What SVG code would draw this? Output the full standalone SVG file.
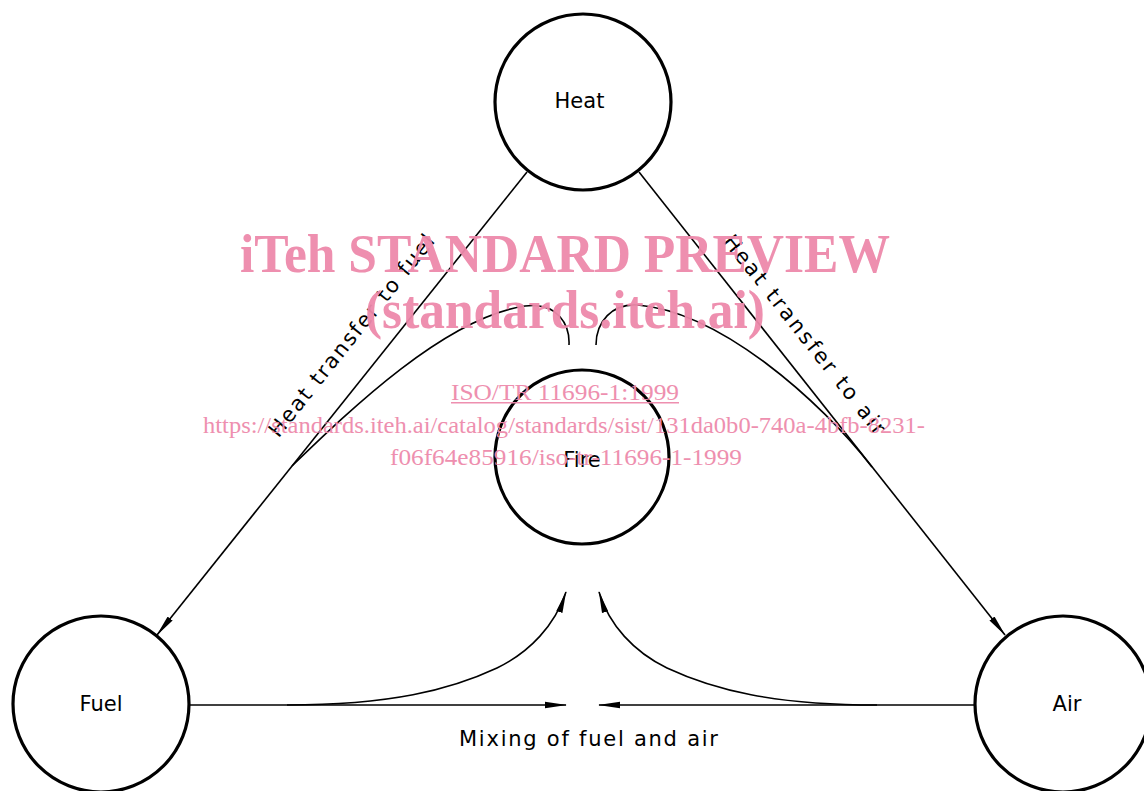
<svg xmlns="http://www.w3.org/2000/svg" width="1144" height="791" viewBox="0 0 1144 791">
  <style>
    .node { fill: #fff; stroke: #000; stroke-width: 3.2; }
    .lbl { font-family: "DejaVu Sans", "Liberation Sans", sans-serif; font-size: 21px; fill: #000; text-anchor: middle; }
    .conn { fill: none; stroke: #000; stroke-width: 1.6; }
    .wm { font-family: "Liberation Serif", serif; fill: #ee8aab; text-anchor: middle; }
    .wm-big { font-size: 54px; font-weight: bold; }
    .wm-small { font-size: 24px; }
  </style>
  <defs>
    <marker id="arrow" viewBox="0 -4 22 8" refX="21" refY="0" markerWidth="22" markerHeight="8" markerUnits="userSpaceOnUse" orient="auto">
      <path d="M0,-3.2 L22,0 L0,3.2 Z" fill="#000"/>
    </marker>
  </defs>
  <rect width="1144" height="791" fill="#fff"/>

  <!-- connectors -->
  <g id="connectors">
    <!-- heat transfer -->
    <path class="conn" d="M527,172 L157,635" marker-end="url(#arrow)"/>
    <path class="conn" d="M639,172 L1005,635" marker-end="url(#arrow)"/>
    <!-- flame return curves near the fire -->
    <path class="conn" d="M292,466 C350,410 445,318 525,306 C558,302 570,325 569,345"/>
    <path class="conn" d="M596,345 C596,322 612,303 638,305 C720,312 820,400 872,467"/>
    <!-- mixing of fuel and air -->
    <path class="conn" d="M190,705 L566,705" marker-end="url(#arrow)"/>
    <path class="conn" d="M975,705 L599,705" marker-end="url(#arrow)"/>
    <path class="conn" d="M287,705 C390,705 450,690 497,668 C530,652 555,625 566,592" marker-end="url(#arrow)"/>
    <path class="conn" d="M877,705 C774,705 714,690 667,668 C634,652 609,625 599,592" marker-end="url(#arrow)"/>
    <!-- connector labels -->
    <text class="lbl" transform="translate(357,340) rotate(-51.4)" textLength="252" lengthAdjust="spacing">Heat transfer to fuel</text>
    <text class="lbl" transform="translate(799,339) rotate(51.7)" textLength="248" lengthAdjust="spacing">Heat transfer to air</text>
    <text class="lbl" x="588.5" y="746" textLength="259" lengthAdjust="spacing">Mixing of fuel and air</text>
  </g>

  <!-- nodes -->
  <g id="heat">
    <circle class="node" cx="583" cy="102" r="88"/>
    <text class="lbl" x="579.5" y="108">Heat</text>
  </g>
  <g id="fire">
    <circle class="node" cx="582" cy="457" r="87"/>
    <text class="lbl" x="582" y="467">Fire</text>
  </g>
  <g id="fuel">
    <circle class="node" cx="101" cy="704" r="88"/>
    <text class="lbl" x="101" y="711">Fuel</text>
  </g>
  <g id="air">
    <circle class="node" cx="1063" cy="704" r="88"/>
    <text class="lbl" x="1067" y="711">Air</text>
  </g>

  <!-- preview stamp -->
  <g id="stamp" opacity="0.95">
    <text class="wm wm-big" x="565" y="272" textLength="650" lengthAdjust="spacingAndGlyphs">iTeh STANDARD PREVIEW</text>
    <text class="wm wm-big" x="565" y="328" textLength="400" lengthAdjust="spacingAndGlyphs">(standards.iteh.ai)</text>
    <text class="wm wm-small" x="565" y="400" textLength="228" lengthAdjust="spacingAndGlyphs">ISO/TR 11696-1:1999</text>
    <rect x="451" y="402" width="228" height="1.5" fill="#ee8aab"/>
    <text class="wm wm-small" x="564" y="433" textLength="722" lengthAdjust="spacingAndGlyphs">https://standards.iteh.ai/catalog/standards/sist/131da0b0-740a-4bfb-8231-</text>
    <text class="wm wm-small" x="566" y="465" textLength="352" lengthAdjust="spacingAndGlyphs">f06f64e85916/iso-tr-11696-1-1999</text>
  </g>
</svg>
